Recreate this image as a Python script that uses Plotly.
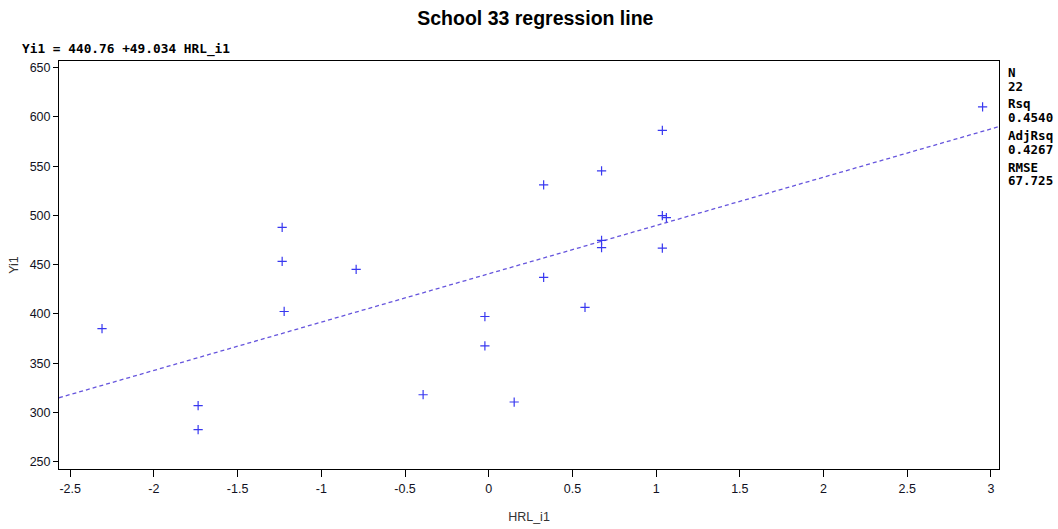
import numpy as np
import plotly.graph_objects as go

# Data
hrl_i1 = [-2.310, -1.234, -1.234, -1.222, -0.792, -1.736, -1.736, -0.392,
          1.037, 0.674, 0.328, 1.037, 1.061, 0.674, 0.674, 1.037,
          0.328, 0.575, -0.023, -0.023, 0.152, 2.950]
yi1 = [385.2, 487.9, 453.4, 402.5, 445.2, 306.9, 282.5, 318.0,
       586.3, 545.2, 531.0, 499.8, 497.8, 474.7, 467.3, 466.9,
       437.1, 406.6, 397.4, 367.6, 310.6, 610.3]

intercept = 440.76
slope = 49.034
stat_names = ["N", "Rsq", "AdjRsq", "RMSE"]
stat_values = ["22", "0.4540", "0.4267", "67.725"]

x_ticks = [-2.5, -2, -1.5, -1, -0.5, 0, 0.5, 1, 1.5, 2, 2.5, 3]
y_ticks = [250, 300, 350, 400, 450, 500, 550, 600, 650]

x_range = [-2.567, 3.048]
y_range = [242.6, 656.8]

line_x = np.array(x_range)
line_y = intercept + slope * line_x

fig = go.Figure()
fig.add_trace(go.Scatter(
    x=line_x, y=line_y, mode="lines",
    line=dict(color="#6655dd", width=1.3, dash="4px,3px"),
    hoverinfo="skip", showlegend=False))
fig.add_trace(go.Scatter(
    x=hrl_i1, y=yi1, mode="markers",
    marker=dict(symbol="cross-thin-open", size=6.6, color="#3838f0",
                line=dict(color="#3838f0", width=1.2)),
    showlegend=False))

mono = "DejaVu Sans Mono, Liberation Mono, monospace"
sans = "Liberation Sans, Arial, sans-serif"

PLOT_TOP, PLOT_H = 61, 408  # pixel geometry of the plot area (for paper coords)

annotations = [
    dict(text=f"<b>Yi1 = {intercept} +{slope} HRL_i1</b>", xref="paper", yref="paper",
         x=-0.041, y=1.005, xanchor="left", yanchor="bottom", showarrow=False,
         font=dict(family=mono, size=12.8, color="black")),
]
# stats block on the right: each line placed separately (name, value)
line_centers = [72, 86, 104, 117.5, 135.5, 149, 167, 180.5]
stat_lines = [t for pair in zip(stat_names, stat_values) for t in pair]
for txt, cy in zip(stat_lines, line_centers):
    annotations.append(dict(
        text=f"<b>{txt}</b>", xref="paper", yref="paper",
        x=1.0075, y=(PLOT_TOP + PLOT_H - cy) / PLOT_H, xanchor="left", yanchor="middle",
        align="left", showarrow=False,
        font=dict(family=mono, size=12.5, color="black")))

fig.update_layout(
    width=1058, height=529,
    margin=dict(l=59, r=59, t=61, b=60, autoexpand=False),
    paper_bgcolor="white", plot_bgcolor="white",
    title=dict(text="<b>School 33 regression line</b>", x=0.506, xanchor="center",
               y=0.966, yanchor="middle",
               font=dict(family=sans, size=19.5, color="black")),
    xaxis=dict(range=x_range, tickvals=x_ticks,
               ticktext=[f"{t:g}" for t in x_ticks],
               showgrid=False, zeroline=False,
               showline=True, linecolor="black", linewidth=1, mirror=True,
               ticks="outside", ticklen=7, tickcolor="black",
               ticklabelstandoff=1,
               tickfont=dict(family=sans, size=12.5, color="#111122"),
               title=dict(text="HRL_i1", standoff=17,
                          font=dict(family=sans, size=12.5, color="#333333"))),
    yaxis=dict(range=y_range, tickvals=y_ticks,
               showgrid=False, zeroline=False,
               showline=True, linecolor="black", linewidth=1, mirror=True,
               ticks="outside", ticklen=5, tickcolor="black",
               tickfont=dict(family=sans, size=12.5, color="#111122"),
               title=dict(text="Yi1", standoff=8,
                          font=dict(family=sans, size=12.5, color="#333333"))),
    annotations=annotations,
)

fig.write_html("out.html",
               config={"displayModeBar": False},
               post_script="document.body.style.margin='0';document.body.style.overflow='hidden';")
